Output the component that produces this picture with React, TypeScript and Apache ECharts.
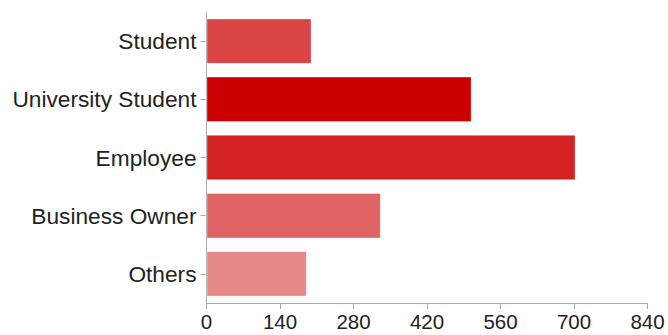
import React, { useEffect, useRef } from "react";
import * as echarts from "echarts";

const categories = ["Student", "University Student", "Employee", "Business Owner", "Others"];
const values = [200, 505, 703, 332, 191];
const barColors = ["#db4444", "#cc0000", "#d42121", "#e06363", "#e88787"];
const xTicks = { min: 0, max: 840, interval: 140 };

const FONT = "'Liberation Sans', Arial, Helvetica, sans-serif";

export default function App() {
  const ref = useRef<HTMLDivElement>(null);
  useEffect(() => {
    if (!ref.current) return;
    const chart = echarts.init(ref.current, null, { renderer: "svg" });
    chart.setOption({
      animation: false,
      textStyle: { fontFamily: FONT },
      grid: { left: 206.5, right: 20.5, top: 12, bottom: 32, containLabel: false },
      xAxis: {
        type: "value",
        min: xTicks.min,
        max: xTicks.max,
        interval: xTicks.interval,
        splitLine: { show: false },
        axisLine: { show: true, lineStyle: { color: "#aaaaaa", width: 1 } },
        axisTick: { show: true, length: 6, lineStyle: { color: "#aaaaaa" } },
        axisLabel: {
          color: "#222",
          fontFamily: FONT,
          fontSize: 20.5,
          margin: 8,
        },
      },
      yAxis: {
        type: "category",
        data: categories,
        inverse: true,
        axisLine: { show: true, lineStyle: { color: "#aaaaaa", width: 1 } },
        axisTick: { show: true, alignWithLabel: true, length: 6, lineStyle: { color: "#aaaaaa" } },
        axisLabel: {
          color: "#222",
          fontFamily: FONT,
          fontSize: 22.7,
          margin: 10,
        },
      },
      series: [
        {
          type: "bar",
          data: values.map((v, i) => ({ value: v, itemStyle: { color: barColors[i] } })),
          barCategoryGap: "22%",
          itemStyle: { borderColor: "rgba(255,255,255,0.35)", borderWidth: 1 },
        },
      ],
    });
    return () => chart.dispose();
  }, []);
  return <div ref={ref} style={{ width: 668, height: 335, position: "absolute", left: 0, top: 0 }} />;
}
